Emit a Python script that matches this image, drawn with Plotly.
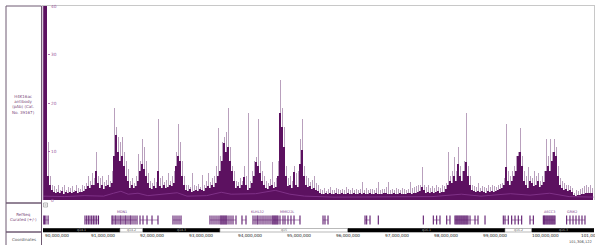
import plotly.graph_objects as go

W, H = 595, 245
FONT = "DejaVu Sans"

# ---------------- data ----------------
BIN_START = 90_061_224      # genome position of first bin (bp)
BIN_SIZE = 40_816           # bin size (bp)
X_END = 101_306_122         # right end of displayed region

# mean signal per bin (dark purple)
SIGNAL_MEAN = [
    45, 45, 5, 3, 2,
    1.6, 1.4, 1.7, 1.5, 1.8, 1.3, 1.6, 1.5, 1.7, 1.4, 1.6, 1.8, 1.5, 1.6, 1.7, 1.9,
    2.2, 2.8, 2.5, 3.2, 3.0,
    6, 3.5,
    2.5, 3, 2.2, 2.8, 3.2, 2.6, 3.5,
    9, 13.5, 10, 8, 9, 7, 5, 4,
    2.5, 3, 2.4, 2.8,
    4, 6, 7.5, 6.5, 5, 3.5,
    2.5, 2.2, 2.8, 2.4,
    6,
    2.8, 2.5, 3, 2.4, 2.6, 3.2, 2.9,
    3.5, 7, 9, 8, 5, 3,
    2.0, 1.8, 2.2, 1.7, 1.9, 2.1, 1.8, 2.3, 2.0, 1.9,
    2.5, 2.8, 2.4, 3, 2.6,
    3.5, 5, 6, 8, 11.7, 10, 11, 8, 6, 4,
    2.5, 2.8, 2.4, 3, 4.8,
    3, 2, 2.5, 3.5, 5, 7.9, 7, 5.5, 4, 3,
    2.5, 2.2, 2.8, 3, 2.4, 2.6,
    5, 17.9, 15, 11, 5,
    2.8, 3, 2.5, 5.8, 3.2, 2.7,
    7.5, 10.3, 5,
    3, 2.6, 2.8, 2.2, 2.5, 2, 1.8,
    1.4, 1.3, 1.2, 1.4, 1.3, 1.5, 1.2, 1.3, 1.4, 1.2,
    1.3, 1.4, 1.2, 1.3, 1.5, 1.3, 1.2, 1.4, 1.3, 1.2,
    1.4, 1.3, 1.5, 1.2, 1.3, 1.4, 1.3, 1.2, 1.4, 1.3,
    1.2, 1.3, 1.4, 1.5, 1.3, 1.2, 1.3, 1.4, 1.3, 1.2,
    1.4, 1.3, 1.2, 1.3, 1.4, 1.5, 1.3, 1.4, 1.5, 1.6, 1.8,
    2.7, 2,
    1.5, 1.6, 1.4, 1.7, 1.5, 1.6, 1.8, 1.5, 1.7, 1.6, 2.2,
    3, 4, 3.5, 5, 4, 7.5, 5, 4, 6, 7.9, 5, 3,
    2.0, 1.8, 1.7, 1.9, 1.6, 1.8, 1.7, 1.5, 1.8, 1.6, 1.9, 1.7, 1.8, 2.0, 2.2, 2.4,
    3, 6.9, 4, 3, 4, 5, 6, 9, 10, 7, 4,
    3, 2.5, 4, 3.5, 2.8, 3, 4, 2.6, 3.2, 3.8,
    6, 7, 6, 8, 10, 9, 5,
    3, 2.5, 2, 2.2, 1.8, 2, 1.6,
    1.0, 0.9, 1.1, 1.0, 1.2, 1.3, 1.4, 1.5, 1.4, 1.5,
]

# max signal per bin (light lavender whiskers)
SIGNAL_MAX = [
    45, 45, 12, 5, 3,
    2.8, 2.2, 3.0, 2.0, 2.6, 3.1, 2.1, 2.7, 2.4, 2.9, 2.0, 3.2, 2.5, 2.3, 3.0, 2.8,
    3.5, 5.0, 4.0, 5.5, 4.5,
    10, 5,
    4.5, 5, 3.8, 4.2, 5.2, 4.0, 6,
    19, 15, 13, 12, 13, 10, 8, 6.5,
    4, 4.5, 3.5, 5,
    9.5, 8, 12.7, 11, 8, 5.5,
    4, 3.5, 4.5, 3.8,
    16.8,
    4.5, 5, 3.8, 4.2, 5.5, 4, 5,
    6, 10, 15.8, 12, 8, 5,
    3, 3.2, 2.6, 5.5, 3, 2.8, 3.4, 2.7, 5.2, 3.1,
    4, 5.5, 3.8, 4.6, 5,
    7, 14.8, 9, 12, 13, 14, 19, 11, 7, 6,
    4, 3.8, 4.5, 4, 7,
    5, 17.9, 4, 6, 8, 8.9, 16.8, 8, 6, 5,
    4, 3.6, 4.4, 7.9, 3.8, 4.5,
    8, 24.9, 19, 15, 7,
    4.5, 5, 4, 7, 5.5, 6,
    12.7, 16.8, 7,
    5, 4.5, 3.8, 4.2, 5, 3.5, 3,
    2.2, 2.0, 2.4, 1.9, 2.3, 2.6, 2.1, 2.0, 2.5, 2.2,
    2.0, 2.3, 2.1, 2.6, 2.2, 2.0, 2.4, 2.1, 2.3, 2.0,
    2.2, 3.8, 2.1, 2.4, 2.0, 2.3, 2.2, 2.1, 2.5, 3.8,
    2.0, 2.3, 2.2, 2.6, 3.7, 2.1, 2.3, 2.0, 2.4, 2.2,
    2.1, 2.5, 2.3, 2.0, 2.2, 3.8, 2.4, 2.6, 2.8, 3.0, 3.2,
    6.9, 3,
    2.6, 3.0, 2.5, 2.8, 2.4, 3.1, 2.7, 2.5, 3.0, 2.8, 3.5,
    10, 5, 6, 8.8, 6, 11, 7, 6, 8, 18, 7, 5,
    3.2, 2.8, 2.6, 3.5, 2.5, 2.9, 2.7, 2.4, 3.0, 2.6, 3.1, 2.8, 2.7, 3.2, 3.4, 3.6,
    4.5, 15.8, 6, 5, 6, 7, 9, 10, 14.8, 9, 6,
    5, 6.9, 5, 4.5, 6, 5, 5.5, 4, 5, 6,
    12.7, 9, 12.7, 10, 12.7, 11, 7,
    4.5, 4, 3.5, 3, 3.2, 2.8, 2.5,
    1.5, 2, 1.8, 2.2, 2.5, 2.8, 3, 2.6, 3, 2.4,
]

# lighter running line inside the dark band
LINE_POS_MB = [90.07, 90.5, 90.9, 91.3, 91.5, 91.65, 91.8, 92.0, 92.2, 92.8, 93.0, 93.4,
               93.7, 93.9, 94.4, 94.8, 95.1, 95.4, 96.0, 97.0, 98.0, 98.6, 99.0, 99.6,
               100.0, 100.4, 100.8, 101.3]
LINE_VAL = [0.8, 0.7, 0.9, 0.8, 1.4, 1.8, 1.2, 1.4, 0.9, 1.5, 0.8, 0.9,
            1.6, 1.2, 1.3, 2.0, 1.2, 0.8, 0.6, 0.6, 0.7, 1.2, 0.8, 1.3,
            1.0, 1.4, 0.7, 0.6]

Y_TICKS = [0, 10, 20, 30, 40]

# RefSeq genes: spans and exon positions (Mb)
GENE_SPANS_MB = [
    (90.061, 90.18), (90.918, 91.194), (91.469, 91.98), (92.04, 92.41),
    (92.714, 92.878), (93.469, 94.0), (94.12, 94.21), (94.347, 94.735),
    (94.755, 95.306), (95.776, 95.878), (96.633, 96.735), (96.904, 96.904),
    (97.823, 97.823), (98.027, 98.163), (98.30, 98.367), (98.469, 98.939),
    (99.082, 99.082), (99.455, 99.557), (99.626, 99.83), (100.0, 100.068),
    (100.272, 100.51), (100.748, 101.122),
]
GENE_EXONS_MB = [
    [90.065, 90.09, 90.12, 90.165],
    [90.918, 90.953, 90.986, 91.02, 91.055, 91.088, 91.122, 91.157, 91.194],
    [91.469, 91.49, 91.531, 91.551, 91.592, 91.633, 91.653, 91.694, 91.735, 91.755,
     91.796, 91.837, 91.857, 91.898, 91.939, 91.98],
    [92.041, 92.102, 92.184, 92.286, 92.408],
    [92.714, 92.755, 92.796, 92.837, 92.878],
    [93.469, 93.51, 93.551, 93.592, 93.633, 93.673, 93.694, 93.714, 93.735, 93.755,
     93.776, 93.796, 93.816, 93.857, 93.898, 93.939, 94.0],
    [94.122, 94.204],
    [94.347, 94.388, 94.429, 94.449, 94.49, 94.531, 94.571, 94.612, 94.653, 94.694, 94.735],
    [94.755, 94.776, 94.796, 94.816, 94.837, 94.857, 94.898, 94.959, 95.0, 95.061,
     95.122, 95.184, 95.306],
    [95.776, 95.816, 95.878],
    [96.633, 96.667, 96.735],
    [96.904],
    [97.823],
    [98.027, 98.095, 98.163],
    [98.30, 98.367],
    [98.469, 98.49, 98.51, 98.53, 98.551, 98.571, 98.592, 98.612, 98.633, 98.653,
     98.673, 98.694, 98.714, 98.735, 98.776, 98.878, 98.939],
    [99.082],
    [99.455, 99.49, 99.557],
    [99.626, 99.694, 99.761, 99.83],
    [100.0, 100.068],
    [100.272, 100.29, 100.306, 100.327, 100.347, 100.367, 100.388, 100.408, 100.429,
     100.449, 100.469, 100.49, 100.51],
    [100.748, 100.816, 100.878, 100.939, 101.0, 101.061, 101.122],
]
GENE_LABELS = ["MDN1", "KLHL32", "MMS22L", "ASCC3", "GRIK2"]
GENE_LABEL_POS_MB = [91.67, 94.43, 95.04, 100.39, 100.86]

# Cytoband ideogram
BAND_STARTS_MB = [90.061, 91.633, 92.102, 93.673, 96.286, 99.490, 100.041]
BAND_ENDS_MB = [91.633, 92.102, 93.673, 96.286, 99.490, 100.041, 101.306]
BAND_STAIN = ["dark", "light", "dark", "light", "dark", "light", "dark"]
BAND_NAMES = ["q14.1", "q14.2", "q14.3", "q15", "q16.1", "q16.2", "q16.3"]

RULER_MB = [90, 91, 92, 93, 94, 95, 96, 97, 98, 99, 100, 101]

# ---------------- colours ----------------
DARK = "#5c1160"
LIGHT = "#b9a0bd"
MIDLINE = "#8e3f98"
GENE_COL = "#5e1a6e"
LABEL_COL = "#7a4a7a"
BOX_COL = "#6f5a72"


def px_x(p):
    return p / W


def px_y(p):
    return (H - p) / H


fig = go.Figure()

centers = [BIN_START + (i + 0.5) * BIN_SIZE for i in range(len(SIGNAL_MEAN))]
centers_max = [BIN_START + (i + 0.5) * BIN_SIZE for i in range(len(SIGNAL_MAX))]

fig.add_trace(go.Bar(x=centers_max, y=SIGNAL_MAX, width=BIN_SIZE * 0.5,
                     marker=dict(color=LIGHT, line=dict(width=0)),
                     xaxis="x", yaxis="y", hoverinfo="skip"))
fig.add_trace(go.Bar(x=centers, y=SIGNAL_MEAN, width=BIN_SIZE,
                     marker=dict(color=DARK, line=dict(width=0)),
                     xaxis="x", yaxis="y", hoverinfo="skip"))
fig.add_trace(go.Scatter(x=[p * 1e6 for p in LINE_POS_MB], y=LINE_VAL, mode="lines",
                         line=dict(color=MIDLINE, width=0.7),
                         xaxis="x", yaxis="y", hoverinfo="skip"))

# RefSeq genes
ix, iy = [], []
for s, e in GENE_SPANS_MB:
    ix += [s * 1e6, e * 1e6, None]
    iy += [9, 9, None]
fig.add_trace(go.Scatter(x=ix, y=iy, mode="lines", line=dict(color="#8d5a9a", width=0.7),
                         xaxis="x", yaxis="y2", hoverinfo="skip"))
ex, ey = [], []
for exons in GENE_EXONS_MB:
    for p in exons:
        ex += [p * 1e6, p * 1e6, None]
        ey += [4.5, 13.5, None]
fig.add_trace(go.Scatter(x=ex, y=ey, mode="lines", line=dict(color=GENE_COL, width=1.1),
                         xaxis="x", yaxis="y2", hoverinfo="skip"))

shapes = []
annotations = []

# cytoband
for s, e, st, nm in zip(BAND_STARTS_MB, BAND_ENDS_MB, BAND_STAIN, BAND_NAMES):
    dark = st == "dark"
    shapes.append(dict(type="rect", xref="x", yref="y3", x0=s * 1e6, x1=e * 1e6, y0=13, y1=16.5,
                       fillcolor="#000000" if dark else "#ffffff",
                       line=dict(color="#000000" if dark else "#8a8a8a", width=0.6)))
    annotations.append(dict(x=(s + e) / 2 * 1e6, y=14.8, xref="x", yref="y3", text=nm,
                            showarrow=False, xanchor="center", yanchor="middle",
                            font=dict(family=FONT, size=3.2,
                                      color="#b0b0b0" if dark else "#666666")))

# ruler labels (the first one sits at the left edge of the view)
for m in RULER_MB:
    pos = max(m * 1_000_000, BIN_START)
    annotations.append(dict(x=pos, y=px_y(235.5), xref="x", yref="paper",
                            text=f"{m * 1_000_000:,}", showarrow=False, xanchor="left",
                            yanchor="middle", xshift=0,
                            font=dict(family=FONT, size=4.2, color="#222222")))
annotations.append(dict(x=px_x(594), y=px_y(241.5), xref="paper", yref="paper",
                        text=f"{X_END:,}", showarrow=False, xanchor="right", yanchor="middle",
                        font=dict(family=FONT, size=3.6, color="#444444")))

# gene labels
for nm, p in zip(GENE_LABELS, GENE_LABEL_POS_MB):
    annotations.append(dict(x=p * 1e6, y=17.5, xref="x", yref="y2", text=nm, showarrow=False,
                            xanchor="center", yanchor="middle",
                            font=dict(family=FONT, size=3.4, color="#7a3a8a")))

# y tick labels
for v in Y_TICKS:
    annotations.append(dict(x=px_x(48.5), y=v, xref="paper", yref="y", text=str(v),
                            showarrow=False, xanchor="left", yanchor="middle",
                            font=dict(family=FONT, size=4.3, color="#9a5aa0")))

# left label panel
for top, bot in [(6, 203), (203, 232), (232, 246)]:
    shapes.append(dict(type="rect", xref="paper", yref="paper", x0=px_x(6), x1=px_x(41.5),
                       y0=px_y(bot), y1=px_y(top), line=dict(color=BOX_COL, width=1),
                       fillcolor="rgba(0,0,0,0)"))
annotations.append(dict(x=px_x(23.7), y=px_y(104.5), xref="paper", yref="paper",
                        text="H4K16ac<br>antibody<br>(pAb) (Cat.<br>No. 39167)", showarrow=False,
                        xanchor="center", yanchor="middle",
                        font=dict(family=FONT, size=4.0, color=LABEL_COL)))
annotations.append(dict(x=px_x(23.7), y=px_y(216.5), xref="paper", yref="paper",
                        text="RefSeq<br>Curated (+/-)", showarrow=False,
                        xanchor="center", yanchor="middle",
                        font=dict(family=FONT, size=4.0, color=LABEL_COL)))
annotations.append(dict(x=px_x(23.7), y=px_y(239.5), xref="paper", yref="paper",
                        text="Coordinates", showarrow=False,
                        xanchor="center", yanchor="middle",
                        font=dict(family=FONT, size=4.0, color="#555555")))

# frame lines
shapes.append(dict(type="line", xref="paper", yref="paper", x0=px_x(42), x1=px_x(595),
                   y0=px_y(5.5), y1=px_y(5.5), line=dict(color="#c8c8c8", width=1)))
shapes.append(dict(type="line", xref="paper", yref="paper", x0=px_x(594.5), x1=px_x(594.5),
                   y0=px_y(5.5), y1=px_y(200), line=dict(color="#c8c8c8", width=1)))
shapes.append(dict(type="line", xref="paper", yref="paper", x0=px_x(42.8), x1=px_x(42.8),
                   y0=px_y(5.5), y1=px_y(200), line=dict(color="#c9b3cc", width=1)))
# collapse icon in refseq track
shapes.append(dict(type="rect", xref="paper", yref="paper", x0=px_x(43.5), x1=px_x(47.5),
                   y0=px_y(207), y1=px_y(203), line=dict(color="#888888", width=0.6),
                   fillcolor="white"))
shapes.append(dict(type="line", xref="paper", yref="paper", x0=px_x(44.5), x1=px_x(46.5),
                   y0=px_y(205), y1=px_y(205), line=dict(color="#666666", width=0.6)))

fig.update_layout(
    width=W, height=H, margin=dict(l=0, r=0, t=0, b=0),
    paper_bgcolor="white", plot_bgcolor="white",
    barmode="overlay", bargap=0, showlegend=False,
    shapes=shapes, annotations=annotations,
    xaxis=dict(domain=[px_x(43), px_x(594)], range=[BIN_START, X_END],
               anchor="free", position=px_y(237.5),
               showgrid=False, zeroline=False, showline=False,
               showticklabels=False, ticks="outside", ticklen=2.5, tickwidth=0.8,
               tickcolor="#333333", tick0=0, dtick=1_000_000,
               minor=dict(ticks="outside", ticklen=1.2, tickwidth=0.8, dtick=100_000,
                          tickcolor="#555555", showgrid=False)),
    yaxis=dict(domain=[px_y(200), px_y(5.5)], range=[0, 40.2],
               anchor="free", position=px_x(46.5),
               showgrid=False, zeroline=False, showline=False, showticklabels=False,
               ticks="inside", ticklen=2, tickwidth=0.8, tickcolor="#9a5aa0",
               tickvals=Y_TICKS),
    yaxis2=dict(domain=[px_y(229), px_y(200)], range=[0, 29], anchor="x",
                showgrid=False, zeroline=False, showline=False, showticklabels=False,
                ticks=""),
    yaxis3=dict(domain=[px_y(245), px_y(228)], range=[0, 17], anchor="x",
                showgrid=False, zeroline=False, showline=False, showticklabels=False,
                ticks=""),
)

fig.write_html(
    "out.html",
    config={"displayModeBar": False, "staticPlot": True},
    post_script="document.body.style.margin='0';document.body.style.padding='0';"
                "document.body.style.overflow='hidden';",
)
